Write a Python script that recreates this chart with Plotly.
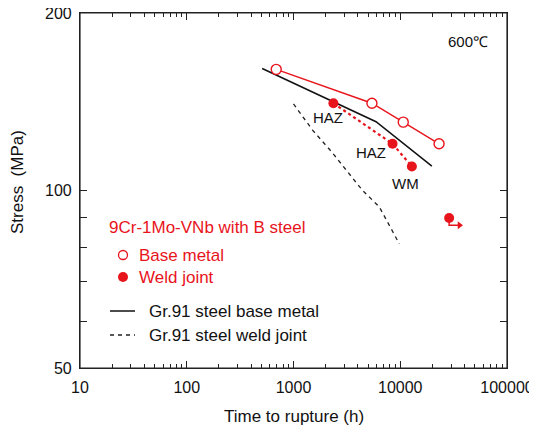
import plotly.graph_objects as go

# ---- data ----
base_time = [689, 5430, 10670, 23100]
base_stress = [160.5, 140.6, 130.6, 120.0]

weld_time = [2366, 8470, 12850]
weld_stress = [140.6, 120.0, 109.8]

runout_time = [28700]
runout_stress = [89.8]

gr91_base_time = [509, 5930, 19770]
gr91_base_stress = [161.0, 130.8, 110.0]

gr91_weld_time = [1000, 1507, 2312, 4415, 6370, 9800]
gr91_weld_stress = [140.3, 126.6, 115.9, 100.1, 93.8, 81.2]

x_ticks = [10, 100, 1000, 10000, 100000]
y_ticks = [50, 60, 70, 80, 90, 100, 200]
y_ticktext = ["50", "", "", "", "", "100", "200"]

RED = "#e8141c"
FONT = "Liberation Sans, Arial, Helvetica, sans-serif"

fig = go.Figure()

# Gr.91 weld joint (dashed)
fig.add_trace(go.Scatter(x=gr91_weld_time, y=gr91_weld_stress, mode="lines",
                         line=dict(color="#222", width=1.3, dash="4px,4px"), showlegend=False))
# Gr.91 base metal (solid)
fig.add_trace(go.Scatter(x=gr91_base_time, y=gr91_base_stress, mode="lines",
                         line=dict(color="#111", width=1.5), showlegend=False))
# weld joint dotted
fig.add_trace(go.Scatter(x=weld_time, y=weld_stress, mode="lines+markers",
                         line=dict(color=RED, width=2.2, dash="dot"),
                         marker=dict(size=10, color=RED), showlegend=False))
# base metal
fig.add_trace(go.Scatter(x=base_time, y=base_stress, mode="lines+markers",
                         line=dict(color=RED, width=1.4),
                         marker=dict(size=10, color="white", line=dict(color=RED, width=1.4)),
                         showlegend=False))
# runout point
fig.add_trace(go.Scatter(x=runout_time, y=runout_stress, mode="markers",
                         marker=dict(size=10, color=RED), showlegend=False))
# runout arrow (L shape)
t0, s0 = runout_time[0], runout_stress[0]
fig.add_trace(go.Scatter(x=[t0, t0, t0 * 1.22], y=[s0, s0 * 0.972, s0 * 0.972], mode="lines",
                         line=dict(color=RED, width=1.5), showlegend=False))
fig.add_trace(go.Scatter(x=[t0 * 1.25], y=[s0 * 0.972], mode="markers",
                         marker=dict(symbol="triangle-right", size=7, color=RED), showlegend=False))

# ---- legend symbols on pixel overlay axes ----
fig.add_trace(go.Scatter(x=[123], y=[255], mode="markers", xaxis="x2", yaxis="y2",
                         marker=dict(size=9, color="white", line=dict(color=RED, width=1.3)),
                         showlegend=False))
fig.add_trace(go.Scatter(x=[123], y=[277], mode="markers", xaxis="x2", yaxis="y2",
                         marker=dict(size=10, color=RED), showlegend=False))
fig.add_trace(go.Scatter(x=[110, 135], y=[311, 311], mode="lines", xaxis="x2", yaxis="y2",
                         line=dict(color="#111", width=1.5), showlegend=False))
fig.add_trace(go.Scatter(x=[110, 135], y=[335, 335], mode="lines", xaxis="x2", yaxis="y2",
                         line=dict(color="#222", width=1.3, dash="4px,4px"), showlegend=False))

def px(x):
    return (x - 80) / 427.0

def py(y):
    return (368 - y) / 355.0

annots = [
    dict(text="9Cr-1Mo-VNb with B steel", x=px(107), y=py(227), color=RED, xanchor="left", size=17),
    dict(text="Base metal", x=px(137), y=py(255), color=RED, xanchor="left", size=17),
    dict(text="Weld joint", x=px(137), y=py(277), color=RED, xanchor="left", size=17),
    dict(text="Gr.91 steel base metal", x=px(147), y=py(311), color="#111", xanchor="left", size=17),
    dict(text="Gr.91 steel weld joint", x=px(147), y=py(335), color="#111", xanchor="left", size=17),
    dict(text="HAZ", x=px(328), y=py(117), color="#111", xanchor="center", size=15),
    dict(text="HAZ", x=px(371), y=py(152), color="#111", xanchor="center", size=15),
    dict(text="WM", x=px(405), y=py(183), color="#111", xanchor="center", size=15),
    dict(text="600℃", x=px(468), y=py(41), color="#111", xanchor="center", size=15),
    dict(text="Time to rupture (h)", x=px(294), y=py(416), color="#111", xanchor="center", size=17),
]
for a in annots:
    fig.add_annotation(text=a["text"], x=a["x"], y=a["y"], xref="paper", yref="paper",
                       xanchor=a["xanchor"], yanchor="middle", showarrow=False,
                       font=dict(family=FONT, size=a["size"], color=a["color"]))
fig.add_annotation(text="Stress  (MPa)", x=px(17), y=py(182), xref="paper", yref="paper",
                   xanchor="center", yanchor="middle", showarrow=False, textangle=-90,
                   font=dict(family=FONT, size=17, color="#111"))

# frame around plot area
fig.add_shape(type="rect", xref="paper", yref="paper", x0=0, x1=1, y0=0, y1=1,
              line=dict(color="#222", width=1.2), fillcolor="rgba(0,0,0,0)", layer="above")

axis_common = dict(showline=True, linecolor="#222", linewidth=1.2, mirror="ticks",
                   ticks="inside", ticklen=7, tickcolor="#222", showgrid=False, zeroline=False,
                   automargin=False, ticklabeloverflow="allow",
                   tickfont=dict(family=FONT, size=16, color="#111"))

# the page body adds an 8px offset; size and margins compensate for it
fig.update_layout(
    width=529, height=424,
    margin=dict(l=72, r=30, t=5, b=64),
    paper_bgcolor="white", plot_bgcolor="white",
    showlegend=False,
    xaxis=dict(type="log", range=[1, 5], tickvals=x_ticks, ticktext=[str(v) for v in x_ticks],
               minor=dict(ticks="inside", ticklen=4, tickcolor="#222", dtick="D1", showgrid=False),
               ticklabelstandoff=5,
               **axis_common),
    yaxis=dict(type="log", range=[1.69896, 2.30104], tickvals=y_ticks, ticktext=y_ticktext,
               ticklabelstandoff=4,
               **axis_common),
    xaxis2=dict(overlaying="x", range=[80, 507], visible=False),
    yaxis2=dict(overlaying="y", range=[368, 13], visible=False),
)

fig.write_html("out.html")
